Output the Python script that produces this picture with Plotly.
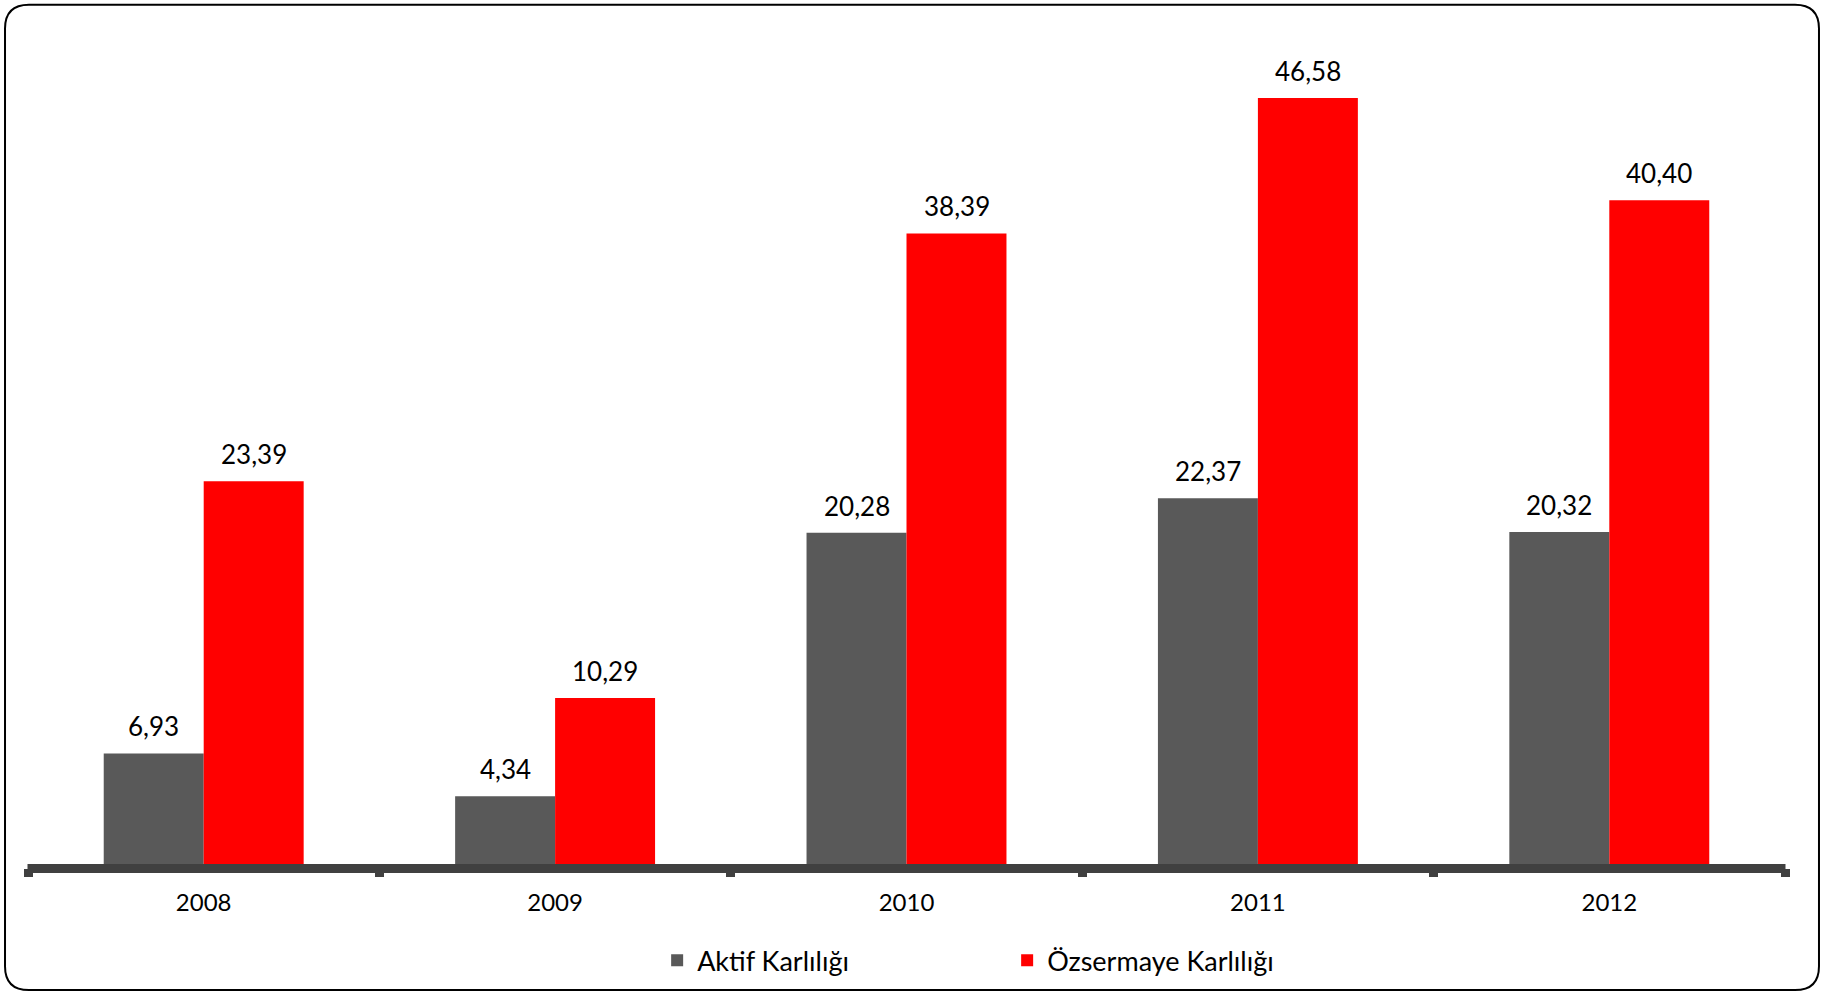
import plotly.graph_objects as go

years = ["2008", "2009", "2010", "2011", "2012"]
aktif = [6.93, 4.34, 20.28, 22.37, 20.32]
ozsermaye = [23.39, 10.29, 38.39, 46.58, 40.40]
series_names = ["Aktif Karlılığı", "Özsermaye Karlılığı"]

FONT = "Lato"
GRAY = "#595959"
RED = "#FF0000"

W, H = 1824, 997
L, R, T, B = 27.5, 38.5, 58, 126
PW, PH = W - L - R, H - T - B

def fmt(v):
    return f"{v:.2f}".replace(".", ",")

fig = go.Figure()
fig.add_trace(go.Bar(x=years, y=aktif, name=series_names[0], marker=dict(color=GRAY, line=dict(width=0))))
fig.add_trace(go.Bar(x=years, y=ozsermaye, name=series_names[1], marker=dict(color=RED, line=dict(width=0))))

annotations = []
for vals, shift in ((aktif, -50), (ozsermaye, 50)):
    for i, v in enumerate(vals):
        annotations.append(dict(x=i, y=v, xref="x", yref="y", text=fmt(v), showarrow=False,
                                xshift=shift, yanchor="bottom", yshift=9,
                                font=dict(family=FONT, size=26, color="black")))

# rounded border in paper coords
def px_x(p):
    return (p - L) / PW
def px_y(p):
    return (H - B - p) / PH

x0, x1, y0, y1, r = 4.5, 1819.5, 4.5, 993.5, 24
path = (f"M {px_x(x0 + r)},{px_y(y0)} L {px_x(x1 - r)},{px_y(y0)} "
        f"Q {px_x(x1)},{px_y(y0)} {px_x(x1)},{px_y(y0 + r)} "
        f"L {px_x(x1)},{px_y(y1 - r)} Q {px_x(x1)},{px_y(y1)} {px_x(x1 - r)},{px_y(y1)} "
        f"L {px_x(x0 + r)},{px_y(y1)} Q {px_x(x0)},{px_y(y1)} {px_x(x0)},{px_y(y1 - r)} "
        f"L {px_x(x0)},{px_y(y0 + r)} Q {px_x(x0)},{px_y(y0)} {px_x(x0 + r)},{px_y(y0)} Z")

shapes = [
    dict(type="path", xref="paper", yref="paper", path=path, line=dict(color="black", width=2), layer="above"),
    dict(type="line", xref="paper", yref="paper", x0=px_x(27), x1=px_x(1786), y0=px_y(871.5), y1=px_y(871.5),
         line=dict(color="#404040", width=9), layer="above"),
]

fig.update_layout(
    width=W, height=H,
    margin=dict(l=L, r=R, t=T, b=B, pad=0),
    paper_bgcolor="white", plot_bgcolor="white",
    barmode="group", bargap=0.431, bargroupgap=0,
    font=dict(family=FONT, color="black"),
    xaxis=dict(type="category", range=[-0.5, len(years) - 0.5], showgrid=False, showline=False,
               zeroline=False, ticks="outside",
               tickson="boundaries", ticklen=8, tickwidth=9, tickcolor="#404040", tickangle=0,
               ticklabelstandoff=18,
               tickfont=dict(family=FONT, size=24, color="black")),
    yaxis=dict(range=[0, 49], visible=False, showgrid=False, zeroline=False),
    showlegend=True,
    legend=dict(orientation="h", x=px_x(657), xanchor="left", y=px_y(964), yanchor="middle",
                font=dict(family=FONT, size=27, color="black"), entrywidth=305, entrywidthmode="pixels",
                bgcolor="rgba(0,0,0,0)"),
    annotations=annotations,
    shapes=shapes,
)

fig.write_html("out.html", config={"displayModeBar": False},
               post_script="document.body.style.margin='0';document.documentElement.style.overflow='hidden';")
